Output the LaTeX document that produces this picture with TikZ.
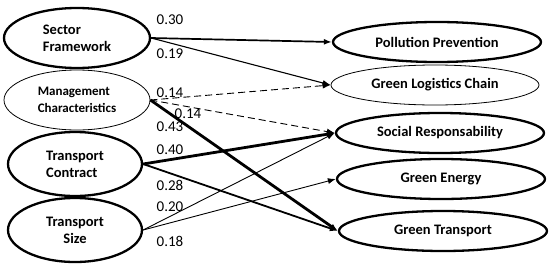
\documentclass[tikz,border=0pt]{standalone}
\usepackage{fontspec}
\setmainfont{Carlito}
\usetikzlibrary{positioning, arrows.meta, shapes.geometric}

\begin{document}
\begin{tikzpicture}[
    x=1pt, y=-1pt,
    var/.style={ellipse, draw, line width=0.8pt, inner sep=0pt,
                font=\fontsize{14.5}{17}\selectfont\bfseries, align=left},
    left/.style={var, minimum width=146pt, minimum height=60pt},
    right/.style={var, minimum width=208pt, minimum height=40pt, align=center},
    heavy/.style={line width=2.3pt},
    num/.style={font=\fontsize{15}{16}\selectfont, inner sep=0pt},
    arrow/.style={-{Latex[length=8pt, width=6pt]}, line width=0.9pt},
    dasharrow/.style={arrow, dash pattern=on 7pt off 4pt},
]
\useasboundingbox (0,0) rectangle (550,268);

% --- drivers (left) ---
\node[left, heavy] (sf) at (77,38) {Sector\\Framework};
\node[left, font=\fontsize{13}{17}\selectfont\bfseries] (mc) at (77,100)
    {Management\\Characteristics};
\node[left, heavy, minimum width=134pt, minimum height=64pt] (tc) at (75,164)
    {Transport\\Contract};
\node[left, heavy, minimum width=134pt, minimum height=64pt, align=center] (ts) at (75,230)
    {Transport\\Size};

% --- outcomes (right) ---
\node[right, heavy] (pp) at (437,42) {Pollution Prevention};
\node[right] (glc) at (435,85) {Green Logistics Chain};
\node[right, heavy] (sr) at (440,133) {Social Responsability};
\node[right, heavy] (ge) at (441,179) {Green Energy};
\node[right, heavy] (gt) at (443,231) {Green Transport};

% ============== arrows ==============
\draw[arrow, line width=1.7pt] (sf.east) -- (pp.west);
\draw[arrow, line width=1.1pt] (sf.east) -- (glc.west);
\draw[dasharrow] (mc.east) -- (glc.west);
\draw[dasharrow] (mc.east) -- (sr.west);
\draw[arrow, line width=2.8pt] (mc.east) -- (gt.west);
\draw[arrow, line width=2.8pt] (tc.east) -- (sr.west);
\draw[arrow, line width=1.8pt] (tc.east) -- (gt.west);
\draw[arrow] (ts.east) -- (sr.west);
\draw[arrow] (ts.east) -- (ge.west);

% --- path coefficients ---
\node[num] (c30) at (170,20) {0.30};
\node[num] (c19) at (170,54) {0.19};
\node[num] (c14a) at (170,93) {0.14};
\node[num] (c14b) at (188,114) {0.14};
\node[num] (c43) at (170,127) {0.43};
\node[num] (c40) at (170,150) {0.40};
\node[num] (c28) at (170,185) {0.28};
\node[num] (c20) at (170,207) {0.20};
\node[num] (c18) at (170,241) {0.18};

\end{tikzpicture}
\end{document}
